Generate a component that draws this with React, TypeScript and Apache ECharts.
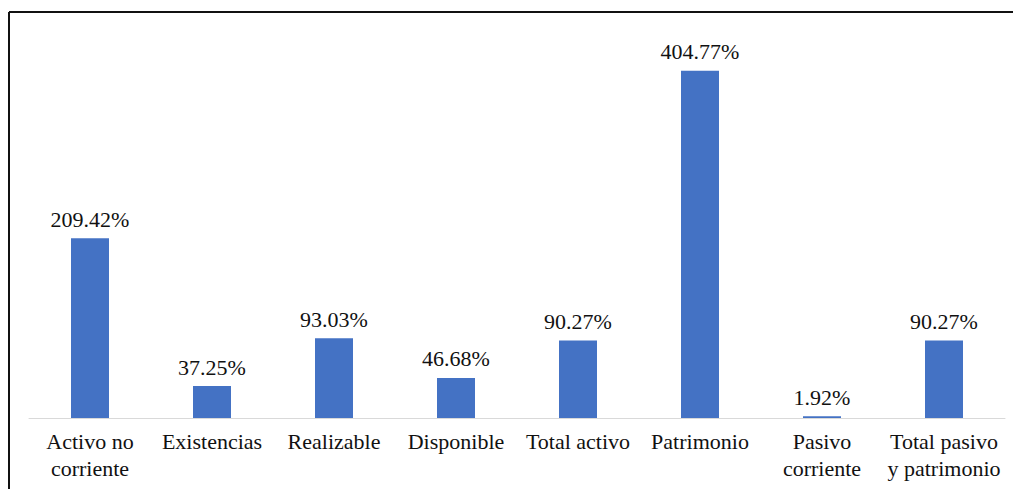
import React, { useEffect, useRef } from "react";
import * as echarts from "echarts";

const categories = [
  "Activo no\ncorriente",
  "Existencias",
  "Realizable",
  "Disponible",
  "Total activo",
  "Patrimonio",
  "Pasivo\ncorriente",
  "Total pasivo\ny patrimonio",
];
const values = [209.42, 37.25, 93.03, 46.68, 90.27, 404.77, 1.92, 90.27];

const FONT = "'Liberation Serif', 'Times New Roman', Times, serif";

export default function App() {
  const ref = useRef<HTMLDivElement>(null);
  useEffect(() => {
    const chart = echarts.init(ref.current!, null, { renderer: "svg" });
    chart.setOption({
      animation: false,
      backgroundColor: "#fff",
      grid: { left: 29, right: 8, top: 32, bottom: 71, containLabel: false },
      xAxis: {
        type: "category",
        data: categories,
        axisLine: { lineStyle: { color: "#d9d9d9", width: 1 } },
        axisTick: { show: false },
        axisLabel: {
          interval: 0,
          color: "#111",
          fontFamily: FONT,
          fontSize: 22,
          lineHeight: 27,
          margin: 10,
        },
      },
      yAxis: {
        type: "value",
        min: 0,
        max: 450,
        show: false,
        splitLine: { show: false },
      },
      series: [
        {
          type: "bar",
          data: values,
          barWidth: 38,
          itemStyle: { color: "#4472C4" },
          label: {
            show: true,
            position: "top",
            distance: 8,
            formatter: (p: any) => p.value.toFixed(2) + "%",
            color: "#111",
            fontFamily: FONT,
            fontSize: 22,
          },
        },
      ],
      graphic: [
        { type: "line", shape: { x1: 9, y1: 12, x2: 1013, y2: 12 }, style: { stroke: "#111", lineWidth: 2 } },
        { type: "line", shape: { x1: 9, y1: 12, x2: 9, y2: 489 }, style: { stroke: "#111", lineWidth: 2 } },
      ],
    });
    return () => chart.dispose();
  }, []);
  return (
    <div
      ref={ref}
      style={{ position: "fixed", left: 0, top: 0, width: 1013, height: 489 }}
    />
  );
}
